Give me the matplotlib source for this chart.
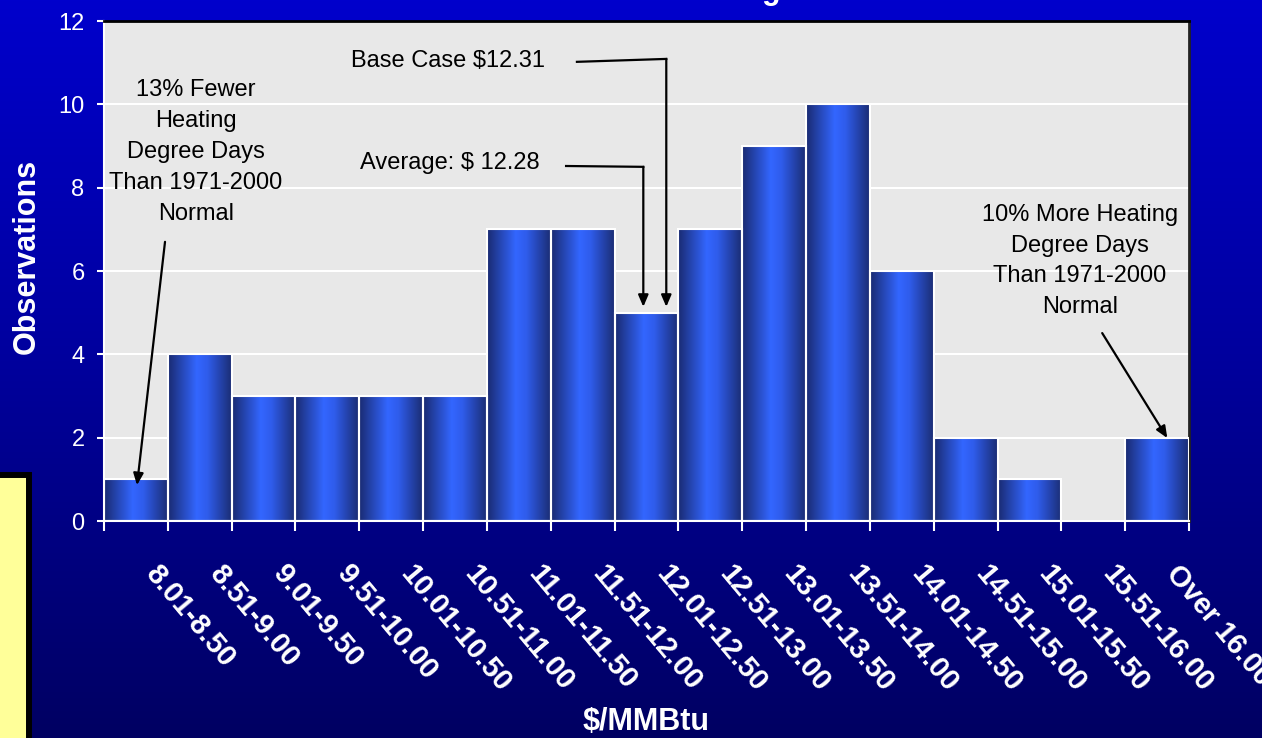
import numpy as np
import matplotlib
matplotlib.use("Agg")
import matplotlib.pyplot as plt
from matplotlib.colors import LinearSegmentedColormap
from matplotlib.patches import Rectangle
from matplotlib.transforms import ScaledTranslation

plt.rcParams['font.family'] = ['Liberation Sans', 'DejaVu Sans']

# ---- data ----
categories = ["8.01-8.50", "8.51-9.00", "9.01-9.50", "9.51-10.00", "10.01-10.50",
              "10.51-11.00", "11.01-11.50", "11.51-12.00", "12.01-12.50", "12.51-13.00",
              "13.01-13.50", "13.51-14.00", "14.01-14.50", "14.51-15.00", "15.01-15.50",
              "15.51-16.00", "Over 16.00"]
observations = [1, 4, 3, 3, 3, 3, 7, 7, 5, 7, 9, 10, 6, 2, 1, 0, 2]
y_ticks = [0, 2, 4, 6, 8, 10, 12]
x_label = "$/MMBtu"
y_label = "Observations"
note_fewer = "13% Fewer\nHeating\nDegree Days\nThan 1971-2000\nNormal"
note_more = "10% More Heating\nDegree Days\nThan 1971-2000\nNormal"
note_base = "Base Case $12.31"
note_avg = "Average: $ 12.28"

W, H = 1262, 738
fig = plt.figure(figsize=(W / 100, H / 100), dpi=100)

# background gradient
bg = fig.add_axes([0, 0, 1, 1], zorder=-10)
bg_cmap = LinearSegmentedColormap.from_list("bg", ["#0000CC", "#00009C", "#000062"])
bg.imshow(np.linspace(0, 1, 256).reshape(-1, 1), aspect='auto', cmap=bg_cmap,
          extent=[0, 1, 0, 1], origin='upper')
bg.set_axis_off()

# partially visible title (only descender shows at top)
fig.text(781 / W, 1 + 1.4 / H, "Heating", ha='right', va='baseline',
         color='white', fontsize=22, fontweight='bold')

# yellow box bottom-left
fig.patches.append(Rectangle((-10 / W, -10 / H), (29 + 10) / W, (H - 475 + 10) / H,
                             transform=fig.transFigure, facecolor='#FFFF99',
                             edgecolor='black', linewidth=4.3, zorder=5))

ax = fig.add_axes([104 / W, 1 - 521 / H, 1085 / W, 500 / H])
ax.set_facecolor('#E8E8E8')

x = np.arange(len(categories))
bars = ax.bar(x, observations, width=1.0, facecolor='none', edgecolor='white',
              linewidth=1.5, zorder=3)

bar_cmap = LinearSegmentedColormap.from_list(
    "bar", [(0.0, "#1A2B72"), (0.45, "#3366FF"), (0.62, "#2F5CEB"), (1.0, "#1B2D74")])
grad = np.linspace(0, 1, 200).reshape(1, -1)
for b in bars:
    h = b.get_height()
    if h <= 0:
        continue
    x0 = b.get_x()
    im = ax.imshow(grad, extent=[x0, x0 + b.get_width(), 0, h], aspect='auto',
                   cmap=bar_cmap, zorder=2, interpolation='bilinear')
    im.set_clip_path(b)

ax.set_xlim(-0.5, len(categories) - 0.5)
ax.set_ylim(0, 12)

# grid
ax.set_yticks(y_ticks)
ax.yaxis.grid(True, color='white', linewidth=1.5, zorder=1)
ax.set_axisbelow(True)

# spines
for s in ['left', 'bottom']:
    ax.spines[s].set_color('white')
    ax.spines[s].set_linewidth(1.5)
ax.spines['top'].set_color('black')
ax.spines['top'].set_linewidth(2)
ax.spines['right'].set_color('#222222')
ax.spines['right'].set_linewidth(2)

# ticks
ax.tick_params(axis='y', colors='white', labelsize=17, length=5, width=1.5, pad=9)
ax.set_xticks(x)
ax.set_xticklabels(categories, rotation=-50, ha='left', va='top',
                   rotation_mode='anchor', fontsize=21, fontweight='bold', color='white')
ax.tick_params(axis='x', which='major', length=0, pad=28)
ax.set_xticks(np.arange(-0.5, len(categories), 1), minor=True)
ax.tick_params(axis='x', which='minor', length=7, width=1.5, color='white')
off = ScaledTranslation(25 / 100, 0, fig.dpi_scale_trans)
for lab in ax.get_xticklabels():
    lab.set_transform(lab.get_transform() + off)

ax.set_ylabel(y_label, color='white', fontsize=22, fontweight='bold')
ax.yaxis.set_label_coords(-62 / 1085, 0.529)
ax.set_xlabel(x_label, color='white', fontsize=22, fontweight='bold')
ax.xaxis.set_label_coords(0.5, -186 / 500)

# annotations
arrow = dict(arrowstyle='-|>,head_length=0.7,head_width=0.3', color='black', lw=1.6,
             shrinkA=0, shrinkB=0)
ax.text(0.94, 8.86, note_fewer, ha='center', va='center', fontsize=17,
        linespacing=1.52, zorder=6)
ax.annotate("", xy=(0.017, 0.86), xytext=(0.456, 6.70), arrowprops=arrow, zorder=6)

ax.text(14.79, 6.24, note_more, ha='center', va='center', fontsize=17,
        linespacing=1.52, zorder=6)
ax.annotate("", xy=(16.16, 1.99), xytext=(15.14, 4.51), arrowprops=arrow, zorder=6)

ax.text(6.41, 11.03, note_base, ha='right', va='center', fontsize=17, zorder=6)
ax.plot([6.91, 8.31], [11.02, 11.09], color='black', lw=1.6, zorder=6)
ax.annotate("", xy=(8.31, 5.14), xytext=(8.31, 11.09), arrowprops=arrow, zorder=6)

ax.text(6.32, 8.59, note_avg, ha='right', va='center', fontsize=17, zorder=6)
ax.plot([6.74, 7.95], [8.52, 8.50], color='black', lw=1.6, zorder=6)
ax.annotate("", xy=(7.95, 5.14), xytext=(7.95, 8.50), arrowprops=arrow, zorder=6)

fig.savefig('out.png', dpi=100)
